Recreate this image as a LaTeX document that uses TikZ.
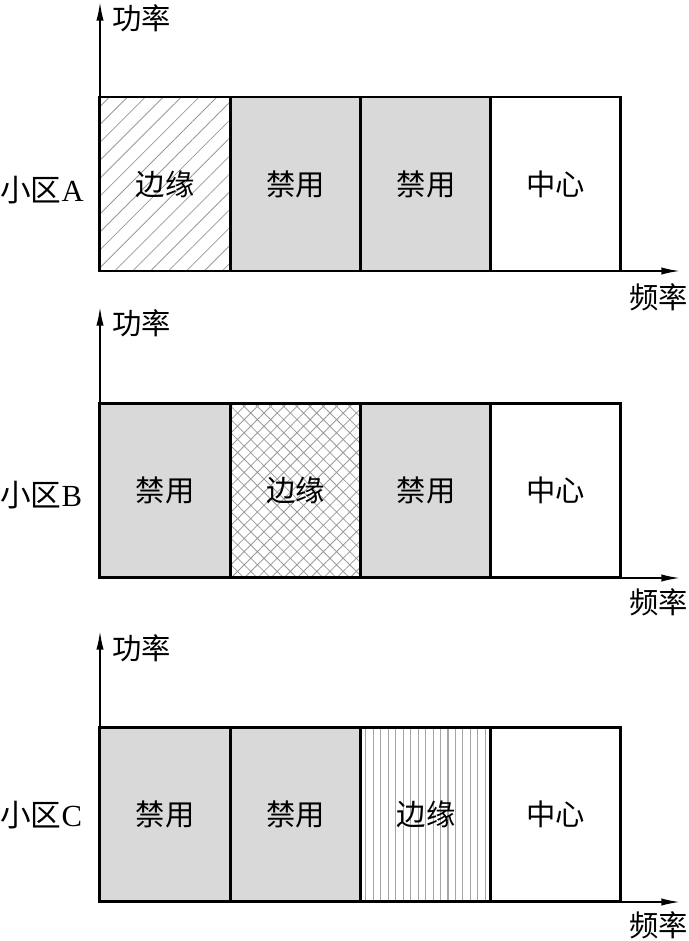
\documentclass[tikz,border=0pt]{standalone}
\usepackage{fontspec}
\setmainfont{Liberation Serif}
\newfontfamily\cjk{Noto Sans CJK SC}
\usetikzlibrary{arrows.meta,patterns.meta}
\begin{document}
\begin{tikzpicture}[x=0.75pt,y=-0.75pt,
  cell/.style={draw=black,line width=2.2pt,minimum width=97.7pt,minimum height=130.5pt,inner sep=0pt,font=\cjk\fontsize{22}{26}\selectfont},
  ban/.style={cell,fill=black!15},
  zhong/.style={cell,fill=white},
  edgeA/.style={cell,pattern={Lines[angle=45,distance=9.5pt,line width=0.6pt]},pattern color=black!40},
  edgeB/.style={cell,pattern={Hatch[angle=45,distance=7pt,line width=0.6pt]},pattern color=black!40},
  edgeC/.style={cell,pattern={Lines[angle=90,distance=5.6pt,line width=0.8pt]},pattern color=black!35},
  axis/.style={line width=1.3pt,-{Latex[length=14pt,width=5.5pt]}},
  lab/.style={font=\cjk\fontsize{22}{26}\selectfont,inner sep=0pt},
  cellname/.style={font=\fontsize{23}{27}\selectfont,inner sep=0pt}
]
\useasboundingbox (0,0) rectangle (688,941);
% ---------- Panel A ----------
\node[edgeA] (a1) at (165,184) {边缘};
\node[ban]   (a2) at (295.5,184) {禁用};
\node[ban]   (a3) at (426,184) {禁用};
\node[zhong] (a4) at (555.5,184) {中心};
\coordinate (oA) at (100,271);
\coordinate (yA) at (100,2);
\coordinate (xA) at (680,271);
\draw[axis] (oA) -- (yA);
\draw[axis] (oA) -- (xA);
\node[lab,anchor=west] (pA) at (112,18) {功率};
\node[lab,anchor=east] (fA) at (688,297) {频率};
\node[cellname,anchor=west] (nA) at (0,190) {{\cjk 小区}A};
% ---------- Panel B ----------
\node[ban]   (b1) at (165,490.5) {禁用};
\node[edgeB] (b2) at (295.5,490.5) {边缘};
\node[ban]   (b3) at (426,490.5) {禁用};
\node[zhong] (b4) at (555.5,490.5) {中心};
\coordinate (oB) at (100,578);
\coordinate (yB) at (100,307);
\coordinate (xB) at (680,578);
\draw[axis] (oB) -- (yB);
\draw[axis] (oB) -- (xB);
\node[lab,anchor=west] (pB) at (112,323) {功率};
\node[lab,anchor=east] (fB) at (688,602) {频率};
\node[cellname,anchor=west] (nB) at (0,495) {{\cjk 小区}B};
% ---------- Panel C ----------
\node[ban]   (c1) at (165,814.5) {禁用};
\node[ban]   (c2) at (295.5,814.5) {禁用};
\node[edgeC] (c3) at (426,814.5) {边缘};
\node[zhong] (c4) at (555.5,814.5) {中心};
\coordinate (oC) at (100,902);
\coordinate (yC) at (100,631);
\coordinate (xC) at (680,902);
\draw[axis] (oC) -- (yC);
\draw[axis] (oC) -- (xC);
\node[lab,anchor=west] (pC) at (112,648) {功率};
\node[lab,anchor=east] (fC) at (688,925) {频率};
\node[cellname,anchor=west] (nC) at (0,815) {{\cjk 小区}C};
\end{tikzpicture}
\end{document}
